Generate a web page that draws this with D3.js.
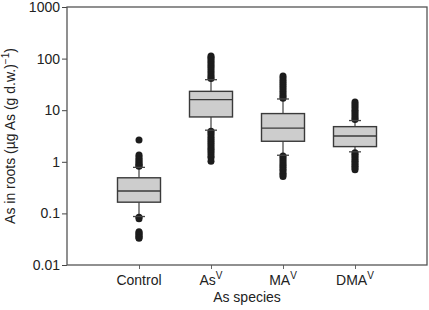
<!DOCTYPE html>
<html>
<head>
<meta charset="utf-8">
<script src="https://cdn.jsdelivr.net/npm/d3@7"></script>
<style>
  body { margin: 0; background: #fff; }
  text { font-family: "Liberation Sans", Arial, sans-serif; fill: #222; }
</style>
</head>
<body>
<div id="chart"></div>
<script>
// categories (base name + superscript)
let categories = ["Control", "AsV", "MAV", "DMAV"];
let catBase = ["Control", "As", "MA", "DMA"];
let catSup = ["", "V", "V", "V"];

// box stats
let q1 = [0.165, 7.4, 2.5, 1.97];
let median = [0.272, 16, 4.5, 3.16];
let q3 = [0.49, 23.2, 8.6, 4.8];
let whiskLow = [0.087, 4.1, 1.34, 1.56];
let whiskHigh = [0.78, 39, 16.5, 6.3];

// outliers
let outliers = [
  [2.65, 1.35, 1.25, 1.15, 1.08, 1.0, 0.95, 0.9, 0.85, 0.82,
   0.084, 0.079, 0.044, 0.042, 0.040, 0.038, 0.036, 0.034, 0.033],
  [112, 105, 98, 90, 83, 76, 70, 64, 58, 53, 48, 44, 41,
   3.9, 3.6, 3.3, 3.0, 2.75, 2.5, 2.3, 2.1, 1.9, 1.75, 1.6, 1.45, 1.3, 1.2, 1.02],
  [46, 42, 38, 35, 32, 29, 26.5, 24, 22, 20, 18.5, 17,
   1.3, 1.2, 1.1, 1.0, 0.92, 0.85, 0.78, 0.72, 0.66, 0.6, 0.56, 0.52],
  [14.4, 13.2, 12, 11, 10, 9.2, 8.4, 7.7, 7.1, 6.6,
   1.5, 1.4, 1.3, 1.2, 1.1, 1.02, 0.95, 0.88, 0.82, 0.76, 0.7]
];

let yTicks = [0.01, 0.1, 1, 10, 100, 1000];
let yTickLabels = ["0.01", "0.1", "1", "10", "100", "1000"];

const W = 429, H = 310;
const margin = { TOP: 7, BOTTOM: 45, LEFT: 67, RIGHT: 2 };
const w = W - margin.LEFT - margin.RIGHT;
const h = H - margin.TOP - margin.BOTTOM;
const fs = "14px";

const svg = d3.select("#chart").append("svg")
  .attr("width", W).attr("height", H)
  .append("g")
  .attr("transform", `translate(${margin.LEFT}, ${margin.TOP})`);

const xScale = d3.scalePoint()
  .domain(categories)
  .range([0, w])
  .padding(1);

const yScale = d3.scaleLog()
  .domain([0.01, 1000])
  .range([h, 0]);

const boxW = 43, capW = 12;

// y axis
const yAxis = svg.append("g").attr("class", "yAxis")
  .call(d3.axisLeft(yScale).tickValues(yTicks)
    .tickFormat((d, i) => yTickLabels[i]).tickSize(5).tickSizeOuter(0));
yAxis.select(".domain").remove();
yAxis.selectAll(".tick line").attr("stroke", "#444");
yAxis.selectAll(".tick text")
  .attr("x", -7)
  .style("font-size", fs)
  .style("font-family", "Liberation Sans, Arial, sans-serif")
  .attr("fill", "#222");

// x axis
const xAxis = svg.append("g").attr("class", "xAxis")
  .attr("transform", `translate(0, ${h})`)
  .call(d3.axisBottom(xScale).tickSize(4).tickSizeOuter(0).tickFormat(""));
xAxis.select(".domain").remove();
xAxis.selectAll(".tick line").attr("stroke", "#666");

// category labels with superscript
const labs = svg.selectAll(".catlab")
  .data(categories)
  .enter()
  .append("text")
  .attr("class", "catlab")
  .attr("x", d => xScale(d))
  .attr("y", h + 20)
  .attr("text-anchor", "middle")
  .style("font-size", fs);
labs.append("tspan").text((d, i) => catBase[i]);
labs.append("tspan")
  .attr("dy", -6)
  .style("font-size", "10px")
  .text((d, i) => catSup[i]);

// frame
svg.append("rect")
  .attr("x", 0).attr("y", 0)
  .attr("width", w).attr("height", h)
  .attr("fill", "none")
  .attr("stroke", "#555")
  .attr("stroke-width", 1.3);

// boxes
const groups = svg.selectAll(".box")
  .data(categories)
  .enter()
  .append("g")
  .attr("class", "box")
  .attr("transform", d => `translate(${xScale(d)}, 0)`);

// whisker lines
groups.append("line")
  .attr("x1", 0).attr("x2", 0)
  .attr("y1", (d, i) => yScale(q3[i]))
  .attr("y2", (d, i) => yScale(whiskHigh[i]))
  .attr("stroke", "#666").attr("stroke-width", 1.5);
groups.append("line")
  .attr("x1", 0).attr("x2", 0)
  .attr("y1", (d, i) => yScale(q1[i]))
  .attr("y2", (d, i) => yScale(whiskLow[i]))
  .attr("stroke", "#666").attr("stroke-width", 1.5);

// outlier dots
groups.selectAll("circle")
  .data((d, i) => outliers[i])
  .enter()
  .append("circle")
  .attr("cx", 0)
  .attr("cy", d => yScale(d))
  .attr("r", 3.5)
  .attr("fill", "#1c1c1c");

// caps
groups.append("line")
  .attr("x1", -capW / 2).attr("x2", capW / 2)
  .attr("y1", (d, i) => yScale(whiskHigh[i]))
  .attr("y2", (d, i) => yScale(whiskHigh[i]))
  .attr("stroke", "#444").attr("stroke-width", 1.3);
groups.append("line")
  .attr("x1", -capW / 2).attr("x2", capW / 2)
  .attr("y1", (d, i) => yScale(whiskLow[i]))
  .attr("y2", (d, i) => yScale(whiskLow[i]))
  .attr("stroke", "#444").attr("stroke-width", 1.3);

// box
groups.append("rect")
  .attr("x", -boxW / 2)
  .attr("width", boxW)
  .attr("y", (d, i) => yScale(q3[i]))
  .attr("height", (d, i) => yScale(q1[i]) - yScale(q3[i]))
  .attr("fill", "#cdcdcd")
  .attr("stroke", "#3a3a3a")
  .attr("stroke-width", 1.4);
groups.append("line")
  .attr("x1", -boxW / 2).attr("x2", boxW / 2)
  .attr("y1", (d, i) => yScale(median[i]))
  .attr("y2", (d, i) => yScale(median[i]))
  .attr("stroke", "#3a3a3a").attr("stroke-width", 1.4);

// axis titles
svg.append("text")
  .attr("x", w / 2)
  .attr("y", h + 37)
  .attr("text-anchor", "middle")
  .style("font-size", fs)
  .text("As species");

const yl = svg.append("text")
  .attr("transform", `translate(${-margin.LEFT + 15}, ${h / 2}) rotate(-90)`)
  .attr("text-anchor", "middle")
  .style("font-size", fs);
yl.append("tspan").text("As in roots (µg As (g d.w.)");
yl.append("tspan").attr("dy", -6).style("font-size", "10px").text("\u22121");
yl.append("tspan").attr("dy", 6).text(")");
</script>
</body>
</html>
